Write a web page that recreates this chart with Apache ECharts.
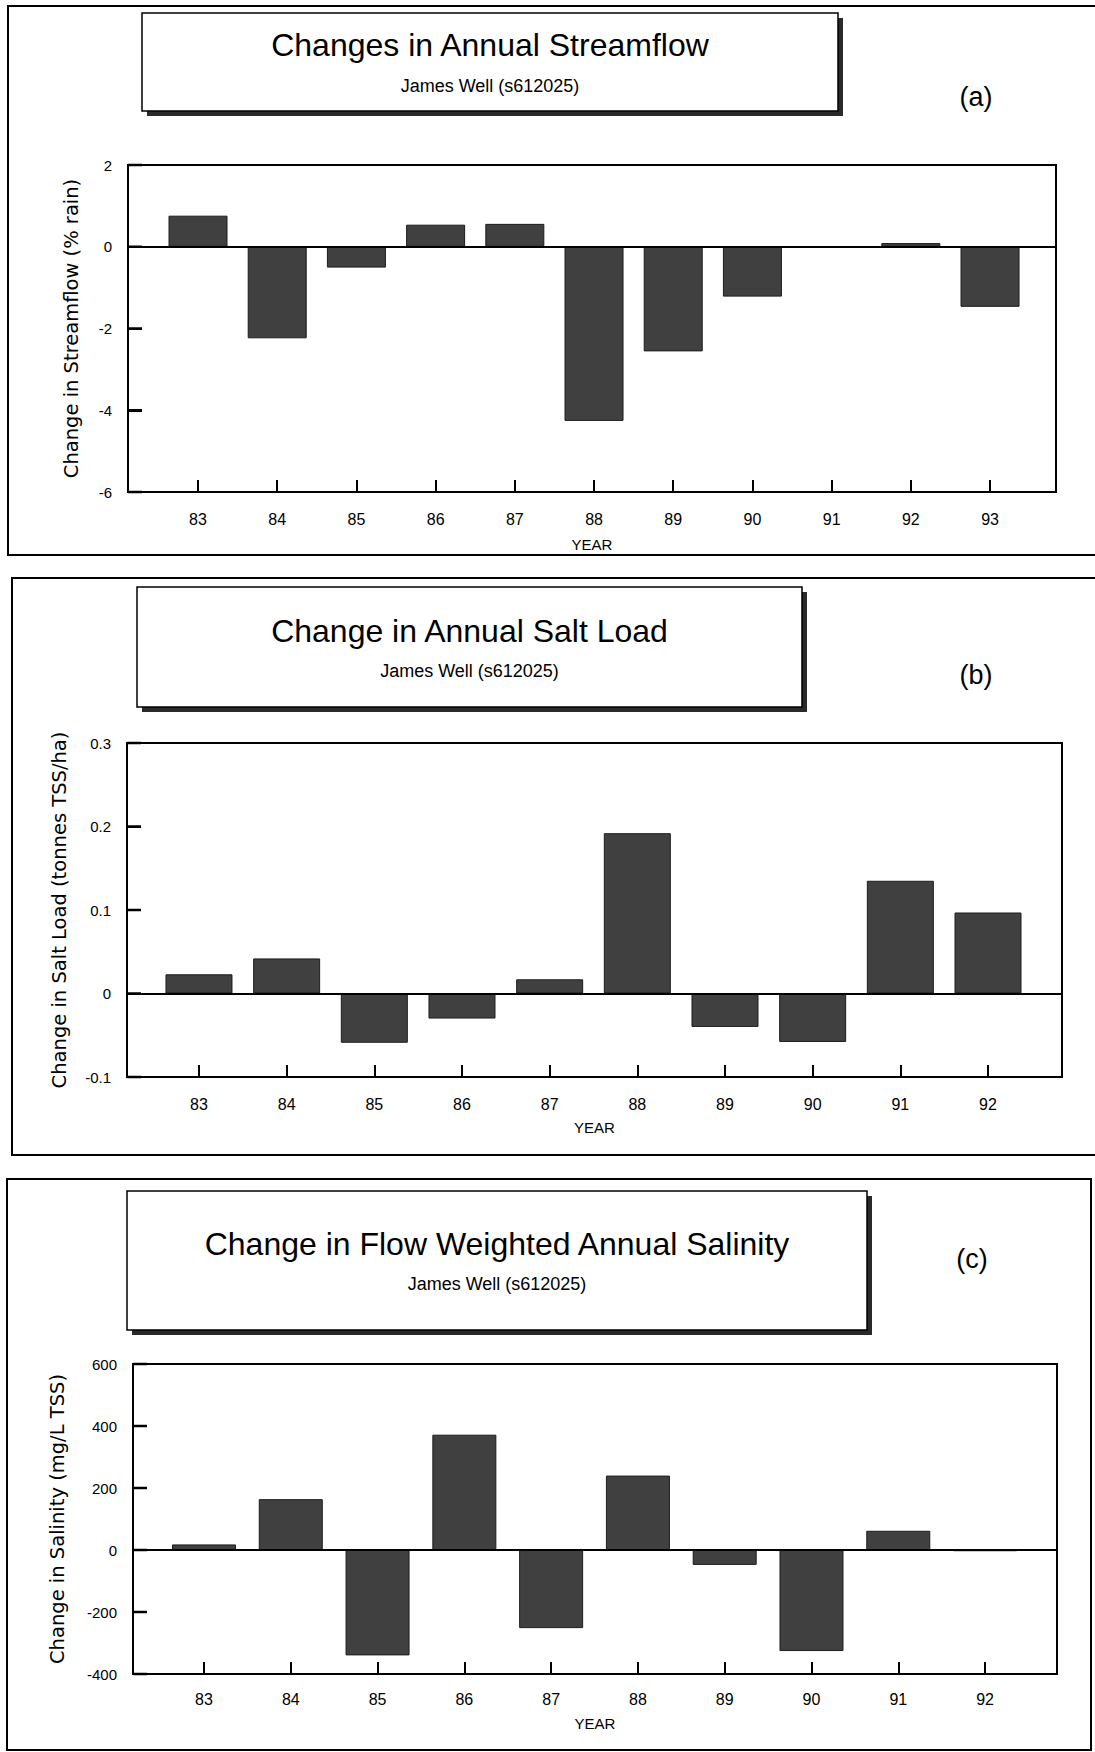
<!DOCTYPE html>
<html>
<head>
<meta charset="utf-8">
<script src="https://cdn.jsdelivr.net/npm/echarts@6/dist/echarts.min.js"></script>
<style>
html,body{margin:0;padding:0;background:#fff;}
#chart{width:1095px;height:1752px;}
</style>
</head>
<body>
<div id="chart"></div>
<script>
// ---- data ----
const yearsA = [83, 84, 85, 86, 87, 88, 89, 90, 91, 92, 93];
const streamflowChange = [0.76, -2.24, -0.51, 0.54, 0.56, -4.26, -2.56, -1.22, -0.02, 0.09, -1.47];
const yearsB = [83, 84, 85, 86, 87, 88, 89, 90, 91, 92];
const saltLoadChange = [0.023, 0.042, -0.059, -0.030, 0.017, 0.192, -0.040, -0.058, 0.135, 0.097];
const yearsC = [83, 84, 85, 86, 87, 88, 89, 90, 91, 92];
const salinityChange = [18, 164, -340, 372, -252, 240, -48, -326, 62, -4];

const yTicksA = [-6, -4, -2, 0, 2];
const yTicksB = [-0.1, 0, 0.1, 0.2, 0.3];
const yTicksC = [-400, -200, 0, 200, 400, 600];

const titles = ['Changes in Annual Streamflow', 'Change in Annual Salt Load', 'Change in Flow Weighted Annual Salinity'];
const subtitle = 'James Well (s612025)';
const panelLetters = ['(a)', '(b)', '(c)'];
const yNames = ['Change in Streamflow (% rain)', 'Change in Salt Load (tonnes TSS/ha)', 'Change in Salinity (mg/L TSS)'];
const xName = 'YEAR';

// ---- layout ----
const grids = [
  {left: 128, top: 165, width: 928, height: 327},
  {left: 127, top: 743, width: 935, height: 334},
  {left: 133, top: 1364, width: 924, height: 310}
];
const xRanges = [[82.116, 93.833], [82.179, 92.844], [82.182, 92.829]];
const yRanges = [[-6, 2, 2], [-0.1, 0.3, 0.1], [-400, 600, 200]];
const barWidths = [59, 67, 64];
const labelMargins = [19, 19, 17];
const nameGaps = [45, 43, 42];
const yNameGaps = [47, 58, 66];

const panelRects = [
  {x: 8, y: 6, width: 1100, height: 549},
  {x: 12, y: 578, width: 1100, height: 577},
  {x: 7, y: 1179, width: 1084, height: 571}
];
const titleBoxes = [
  {x: 142, y: 13, width: 696, height: 98},
  {x: 137, y: 587, width: 665, height: 120},
  {x: 127, y: 1191, width: 740, height: 139}
];
const titleY = [45, 631, 1244];
const subY = [86, 671, 1284];
const letterPos = [[976, 97], [976, 675], [972, 1259]];

const yearSets = [yearsA, yearsB, yearsC];
const valueSets = [streamflowChange, saltLoadChange, salinityChange];
const yTickSets = [yTicksA, yTicksB, yTicksC];

const chart = echarts.init(document.getElementById('chart'), null, {renderer: 'svg'});

const graphic = [];
panelRects.forEach(r => {
  graphic.push({type: 'rect', shape: r, style: {fill: 'none', stroke: '#000', lineWidth: 2}, z: 0});
});
titleBoxes.forEach((b, i) => {
  graphic.push({type: 'rect', shape: {x: b.x + 5, y: b.y + 5, width: b.width, height: b.height}, style: {fill: '#2a2a2a'}, z: 1});
  graphic.push({type: 'rect', shape: b, style: {fill: '#fff', stroke: '#000', lineWidth: 1.5}, z: 2});
  const cx = b.x + b.width / 2;
  graphic.push({type: 'text', x: cx, y: titleY[i], z: 3,
    style: {text: titles[i], fill: '#000', font: '32px "Liberation Sans", Arial, sans-serif', textAlign: 'center', textVerticalAlign: 'middle'}});
  graphic.push({type: 'text', x: cx, y: subY[i], z: 3,
    style: {text: subtitle, fill: '#000', font: '18px "Liberation Sans", Arial, sans-serif', textAlign: 'center', textVerticalAlign: 'middle'}});
  graphic.push({type: 'text', x: letterPos[i][0], y: letterPos[i][1], z: 3,
    style: {text: panelLetters[i], fill: '#000', font: '27px "Liberation Sans", Arial, sans-serif', textAlign: 'center', textVerticalAlign: 'middle'}});
});

const xAxis = [], yAxis = [], series = [];
for (let i = 0; i < 3; i++) {
  xAxis.push({
    type: 'value', gridIndex: i, position: 'bottom', min: xRanges[i][0], max: xRanges[i][1],
    axisLine: {show: true, onZero: false, lineStyle: {color: '#000', width: 2}},
    splitLine: {show: false},
    axisTick: {show: true, inside: true, length: 12, lineStyle: {color: '#000', width: 2}, customValues: yearSets[i]},
    axisLabel: {show: true, margin: labelMargins[i], color: '#000', fontSize: 16, fontFamily: '"Liberation Sans", Arial, sans-serif', customValues: yearSets[i]},
    name: xName, nameLocation: 'middle', nameGap: nameGaps[i],
    nameTextStyle: {color: '#000', fontSize: 15, fontFamily: '"Liberation Sans", Arial, sans-serif'}
  });
  yAxis.push({
    type: 'value', gridIndex: i, position: 'left', min: yRanges[i][0], max: yRanges[i][1], interval: yRanges[i][2],
    axisLine: {show: true, onZero: false, lineStyle: {color: '#000', width: 2}},
    splitLine: {show: false},
    axisTick: {show: true, inside: true, length: 14, lineStyle: {color: '#000', width: 2}},
    axisLabel: {show: true, color: '#000', fontSize: 15, margin: 16, fontFamily: '"Liberation Sans", Arial, sans-serif'},
    name: yNames[i], nameLocation: 'middle', nameRotate: 90, nameGap: yNameGaps[i],
    nameTextStyle: {color: '#000', fontSize: 19.5, fontFamily: '"DejaVu Sans", sans-serif'}
  });
  series.push({
    type: 'bar', xAxisIndex: i, yAxisIndex: i,
    data: yearSets[i].map((y, k) => [y, valueSets[i][k]]),
    barWidth: barWidths[i],
    itemStyle: {color: '#404040', borderColor: '#1c1c1c', borderWidth: 1},
    silent: true,
    markLine: {
      silent: true, symbol: ['none', 'none'], label: {show: false},
      lineStyle: {color: '#000', width: 2, type: 'solid'},
      data: [{yAxis: 0}]
    }
  });
}

chart.setOption({
  animation: false,
  backgroundColor: '#fff',
  grid: grids.map(g => Object.assign({show: true, borderColor: '#000', borderWidth: 2, backgroundColor: 'transparent'}, g)),
  xAxis: xAxis,
  yAxis: yAxis,
  series: series,
  graphic: graphic
});

// inward left-axis tick marks, positioned through the axis scale
const tickGraphics = [];
for (let i = 0; i < 3; i++) {
  yTickSets[i].forEach(v => {
    const p = chart.convertToPixel({gridIndex: i}, [xRanges[i][0], v]);
    if (p && isFinite(p[0]) && isFinite(p[1])) {
      tickGraphics.push({type: 'rect', z: 10,
        shape: {x: p[0], y: p[1] - 1.25, width: 14, height: 2.5},
        style: {fill: '#000'}});
    }
  });
}
chart.setOption({graphic: graphic.concat(tickGraphics)});
</script>
</body>
</html>
